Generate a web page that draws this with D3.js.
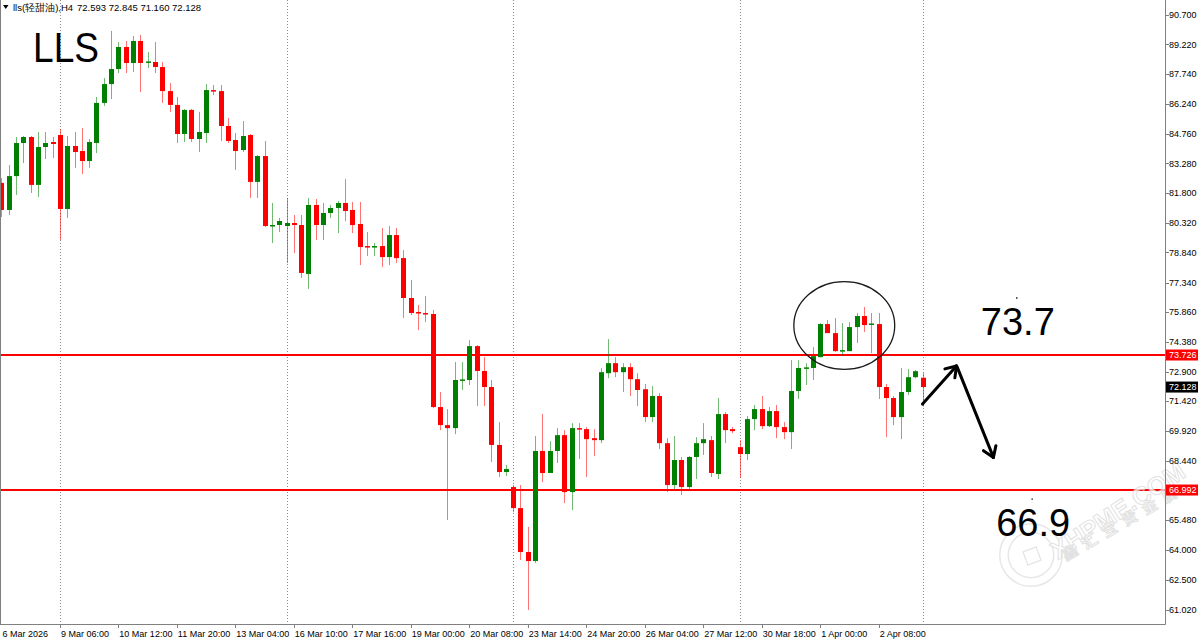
<!DOCTYPE html>
<html><head><meta charset="utf-8">
<script src="https://cdn.jsdelivr.net/npm/d3@7"></script>
<style>html,body{margin:0;padding:0;background:#fff;} svg{display:block;}</style>
</head><body><svg id="c" width="1203" height="640"></svg>
<script>
// ---- DATA (H4 candles, index = bar number from left) ----
const opens = [82.31,80.96,82.65,84.30,84.60,82.21,84.10,84.35,84.70,81.01,84.15,83.90,83.40,84.30,86.30,87.24,87.99,89.09,88.29,89.39,
88.34,88.34,88.09,86.89,86.20,84.75,85.95,84.50,84.80,86.94,86.89,85.15,84.45,83.95,84.70,82.36,83.65,80.18,80.21,80.16,
80.31,80.21,77.77,81.21,80.21,80.81,81.06,81.31,80.96,80.26,79.16,79.10,79.16,78.61,79.71,78.56,76.57,75.87,75.82,75.77,
71.13,70.23,70.08,72.48,72.48,74.17,72.93,72.13,69.24,67.89,67.14,66.09,63.90,63.45,68.94,67.84,68.94,69.73,66.89,70.08,
70.03,69.58,69.48,72.82,73.32,72.87,73.12,72.52,72.02,70.63,71.68,69.33,67.24,68.49,67.14,68.64,69.33,69.48,67.79,70.78,
70.03,69.13,68.79,70.53,71.03,70.18,70.93,70.13,69.88,71.93,73.06,73.08,73.62,75.27,74.82,73.94,73.92,75.12,75.67,75.25,
75.27,72.13,71.58,70.63,71.88,72.62,72.593];
const highs = [82.55,83.20,84.60,84.65,84.65,84.85,84.85,84.60,85.00,84.65,84.85,85.05,84.50,86.60,87.54,89.89,89.34,89.39,89.64,89.69,
88.84,89.34,88.34,87.29,86.60,86.00,86.00,85.85,87.24,87.19,87.19,85.55,84.80,85.40,84.75,83.70,84.40,81.31,80.56,81.56,
80.71,80.71,81.56,81.51,81.31,81.21,81.41,82.50,81.36,81.36,79.86,79.31,80.06,80.16,80.06,78.96,77.47,76.22,76.67,75.97,
71.88,71.03,73.38,73.38,74.47,74.22,73.62,72.48,70.38,68.24,67.24,67.24,65.15,69.69,70.78,69.43,70.08,69.98,70.33,70.33,
70.13,70.03,73.07,74.52,73.62,73.32,73.32,72.82,72.28,72.18,71.83,69.58,69.69,68.64,68.69,69.63,70.33,69.69,71.58,70.88,
70.13,69.48,70.68,71.23,71.68,71.13,71.23,70.38,73.47,73.47,73.32,74.12,75.32,75.47,75.57,75.32,75.37,75.82,76.12,75.82,
75.82,72.28,71.68,73.08,73.03,72.98,72.845];
const lows = [80.61,80.71,81.71,83.30,81.81,81.61,83.50,83.55,79.46,80.56,83.06,82.75,83.06,83.80,86.15,86.49,87.79,87.79,87.84,86.84,
88.04,87.79,86.30,85.85,84.30,84.35,84.35,83.85,84.30,86.69,84.40,84.30,82.96,83.85,81.56,81.56,80.11,79.31,79.86,78.31,
78.81,77.57,77.02,79.46,79.46,80.56,79.81,80.41,79.81,78.21,78.66,78.66,78.11,78.21,78.31,75.57,75.72,74.97,75.37,71.07,
69.98,65.50,69.78,71.98,72.23,71.18,71.18,68.39,67.64,67.69,65.89,63.50,61.01,63.35,67.39,67.84,68.34,66.34,65.99,68.54,
67.64,68.68,69.33,72.57,72.62,71.88,71.68,71.18,70.38,70.38,69.04,66.89,67.04,66.74,67.04,67.54,68.74,67.64,67.54,69.33,
69.83,67.59,68.49,69.98,70.03,70.13,69.58,69.53,69.04,71.53,72.23,72.48,73.62,74.82,73.87,73.72,73.92,74.32,74.87,73.82,
71.53,69.63,70.23,69.53,71.73,72.57,71.160];
const closes = [80.96,82.65,84.30,84.60,82.21,84.10,84.30,84.25,81.01,84.15,83.85,83.40,84.35,86.30,87.24,87.99,89.09,88.29,89.39,88.29,
88.37,88.09,86.89,86.20,84.75,85.95,84.50,84.85,86.94,86.87,85.15,84.40,83.90,84.65,82.36,83.65,80.16,80.21,80.41,80.31,
80.21,77.82,81.21,80.21,80.81,81.06,81.31,80.91,80.21,79.11,79.10,79.16,78.61,79.71,78.56,76.57,75.82,75.82,75.77,71.13,
70.23,70.08,72.48,72.51,74.17,72.93,72.13,69.24,67.89,68.04,66.09,63.90,63.45,68.94,67.84,68.94,69.73,66.89,70.08,70.03,
69.53,69.48,72.87,73.32,72.87,73.12,72.52,71.98,70.63,71.68,69.33,67.24,68.49,67.14,68.64,69.33,69.53,67.84,70.78,69.98,
69.93,68.79,70.53,71.03,70.18,70.93,70.13,69.88,71.93,73.08,73.11,73.67,75.27,74.82,73.92,73.97,75.12,75.67,75.22,75.30,
72.13,71.58,70.63,71.88,72.62,72.92,72.128];

const firstLabel = "6 Mar 2026";
const timeTickBars = [8,16,24,32,40,48,56,64,72,80,88,96,104,112,120];
const timeLabels = ["9 Mar 06:00","10 Mar 12:00","11 Mar 20:00","13 Mar 04:00","16 Mar 10:00","17 Mar 16:00","19 Mar 00:00",
  "20 Mar 08:00","23 Mar 14:00","24 Mar 20:00","26 Mar 04:00","27 Mar 12:00","30 Mar 18:00","1 Apr 00:00","2 Apr 08:00"];
const separatorBars = [8,39,70,101,126];
const priceTicks = [90.700,89.220,87.740,86.240,84.760,83.280,81.800,80.320,78.840,77.340,75.860,74.380,72.900,71.420,69.920,68.440,65.480,64.000,62.500,61.020];
const levels = [73.726, 66.992];
const symbolName = "lls(轻甜油),H4";
const titleText = "LLS";
// annotations in (bar, price)
const ellipseAnn = {bar:115.3, price:75.20, rBars:6.9, rPrice:2.19};
const arrows = [ [[126.0,71.28],[130.65,73.18]], [[130.75,73.12],[135.7,68.62]] ];
const labelsAnn = [ {text:"73.7", bar:138.9, price:76.57}, {text:"66.9", bar:141.0, price:66.54} ];

// ---- SCALES ----
const W = 1203, H = 640, plotR = 1165, plotB = 624;
const x = d3.scaleLinear().domain([0,126]).range([1.4, 922.5]);
const y = d3.scaleLinear().domain([60.31, 91.433]).range([plotB, 0]);
const RED = "#ff0000", GREEN = "#008000";
const FONT = "'Liberation Sans', Arial, sans-serif";

const svg = d3.select("#c");
svg.append("rect").attr("width",W).attr("height",H).attr("fill","#fff");
svg.append("defs").append("clipPath").attr("id","clip")
  .append("rect").attr("x",0.5).attr("y",0).attr("width",plotR-0.5).attr("height",plotB);

const plot = svg.append("g").attr("clip-path","url(#clip)");

// period separators
plot.selectAll("line.sep").data(separatorBars).enter().append("line")
  .attr("x1",d=>Math.round(x(d))+0.5).attr("x2",d=>Math.round(x(d))+0.5)
  .attr("y1",0).attr("y2",plotB)
  .attr("stroke","#8c8c8c").attr("stroke-width",1).attr("stroke-dasharray","1,2");

// support / resistance lines
plot.selectAll("line.lvl").data(levels).enter().append("line")
  .attr("x1",0).attr("x2",plotR).attr("y1",d=>y(d)).attr("y2",d=>y(d))
  .attr("stroke",RED).attr("stroke-width",2);

// candles
const candles = d3.range(opens.length).map(i=>({i,o:opens[i],h:highs[i],l:lows[i],c:closes[i]}));
const cg = plot.append("g");
cg.selectAll("line.wick").data(candles).enter().append("line")
  .attr("x1",d=>Math.round(x(d.i))+0.5).attr("x2",d=>Math.round(x(d.i))+0.5)
  .attr("y1",d=>y(d.h)).attr("y2",d=>y(d.l))
  .attr("stroke",d=>d.c>=d.o?GREEN:RED).attr("stroke-opacity",0.55).attr("stroke-width",1);
const bw = 5;
cg.selectAll("rect.body").data(candles).enter().append("rect")
  .attr("x",d=>Math.round(x(d.i))+0.5-bw/2)
  .attr("width",bw)
  .attr("y",d=>y(Math.max(d.o,d.c)))
  .attr("height",d=>Math.max(1.5, Math.abs(y(d.o)-y(d.c))))
  .attr("fill",d=>d.c>=d.o?GREEN:RED);

// watermark (faint, beneath annotations, not clipped)
const wm = svg.append("g").attr("opacity",0.75);
wm.append("circle").attr("cx",1031).attr("cy",555).attr("r",27).attr("fill","none")
  .attr("stroke","#e0e0e0").attr("stroke-width",10);
wm.append("circle").attr("cx",1031).attr("cy",555).attr("r",27).attr("fill","none")
  .attr("stroke","#fff").attr("stroke-width",7);
wm.append("rect").attr("x",-7).attr("y",-7).attr("width",14).attr("height",14)
  .attr("transform","translate(1032,556) rotate(-20)")
  .attr("fill","#fff").attr("stroke","#dadada").attr("stroke-width",1.2);
wm.append("text").attr("transform","translate(1058,560) rotate(-33)")
  .attr("font-family",FONT).attr("font-weight","bold").attr("font-size",25)
  .attr("fill","#fff").attr("stroke","#d8d8d8").attr("stroke-width",1).text("XHPME.COM");
wm.append("text").attr("transform","translate(1066,561) rotate(-30)")
  .attr("font-family","'Noto Sans CJK SC'").attr("font-weight","bold").attr("font-size",15)
  .attr("letter-spacing",8)
  .attr("fill","#fff").attr("stroke","#d8d8d8").attr("stroke-width",1).text("鑫汇宝贵金属");

const ann = svg.append("g").attr("clip-path","url(#clip)");
// ellipse annotation
ann.append("ellipse")
  .attr("cx",x(ellipseAnn.bar)).attr("cy",y(ellipseAnn.price))
  .attr("rx",x(ellipseAnn.bar+ellipseAnn.rBars)-x(ellipseAnn.bar))
  .attr("ry",y(ellipseAnn.price-ellipseAnn.rPrice)-y(ellipseAnn.price))
  .attr("fill","none").attr("stroke","#1a1a1a").attr("stroke-width",1.3);

// arrows
arrows.forEach(seg=>{
  const [a,b] = seg;
  const x1=x(a[0]), y1=y(a[1]), x2=x(b[0]), y2=y(b[1]);
  ann.append("line").attr("x1",x1).attr("y1",y1).attr("x2",x2).attr("y2",y2)
    .attr("stroke","#000").attr("stroke-width",3).attr("stroke-linecap","round");
  const ang = Math.atan2(y1-y2, x1-x2), L = 12, spread = 34*Math.PI/180;
  [ -spread, spread ].forEach(s=>{
    ann.append("line").attr("x1",x2).attr("y1",y2)
      .attr("x2",x2+L*Math.cos(ang+s)).attr("y2",y2+L*Math.sin(ang+s))
      .attr("stroke","#000").attr("stroke-width",3).attr("stroke-linecap","round");
  });
});

// text annotations
labelsAnn.forEach(t=>{
  ann.append("circle").attr("cx",x(t.bar)).attr("cy",y(t.price)).attr("r",0.9).attr("fill","#444");
  ann.append("text").attr("x",x(t.bar)+1).attr("y",y(t.price)+37)
    .attr("text-anchor","middle").attr("font-family",FONT).attr("font-size",38)
    .attr("fill","#000").text(t.text);
});
svg.append("text").attr("x",33).attr("y",62).attr("font-family",FONT).attr("font-size",42)
  .attr("textLength",66).attr("lengthAdjust","spacingAndGlyphs").attr("fill","#000").text(titleText);

// header
const last = candles[candles.length-1];
svg.append("path").attr("d","M3,5 L8.5,5 L5.75,9 Z").attr("fill","#000");
svg.append("text").attr("x",13).attr("y",10.5).attr("font-family",FONT).attr("font-size",9.5).attr("fill","#000")
  .text(symbolName);
svg.append("text").attr("x",77).attr("y",10.5).attr("font-family",FONT).attr("font-size",9.5).attr("fill","#000")
  .text([last.o,last.h,last.l,last.c].map(v=>v.toFixed(3)).join(" "));

// frame
svg.append("line").attr("x1",0.5).attr("x2",0.5).attr("y1",0).attr("y2",plotB+0.5).attr("stroke","#808080");
svg.append("line").attr("x1",plotR+0.5).attr("x2",plotR+0.5).attr("y1",0).attr("y2",plotB+0.5).attr("stroke","#808080");
svg.append("line").attr("x1",0).attr("x2",plotR+0.5).attr("y1",plotB+0.5).attr("y2",plotB+0.5).attr("stroke","#808080");

// price axis
const pa = svg.append("g");
pa.selectAll("line").data(priceTicks).enter().append("line")
  .attr("x1",plotR+1).attr("x2",plotR+4).attr("y1",d=>Math.round(y(d))+0.5).attr("y2",d=>Math.round(y(d))+0.5)
  .attr("stroke","#808080");
pa.selectAll("text").data(priceTicks).enter().append("text")
  .attr("x",plotR+4).attr("y",d=>y(d)).attr("dy","0.35em")
  .attr("font-family",FONT).attr("font-size",9).attr("fill","#000").text(d=>d.toFixed(3));

function priceTag(v, bg){
  pa.append("rect").attr("x",plotR+1).attr("y",y(v)-5.5).attr("width",32).attr("height",11).attr("fill",bg);
  pa.append("text").attr("x",plotR+4).attr("y",y(v)).attr("dy","0.35em")
    .attr("font-family",FONT).attr("font-size",9).attr("fill","#fff").text(v.toFixed(3));
}
levels.forEach(v=>priceTag(v, RED));
priceTag(last.c, "#000");

// time axis
const ta = svg.append("g");
ta.selectAll("line").data(timeTickBars).enter().append("line")
  .attr("x1",d=>Math.round(x(d))+0.5).attr("x2",d=>Math.round(x(d))+0.5)
  .attr("y1",plotB+1).attr("y2",plotB+4).attr("stroke","#808080");
ta.selectAll("text").data(timeTickBars).enter().append("text")
  .attr("x",d=>x(d)+1).attr("y",636.5)
  .attr("font-family",FONT).attr("font-size",9).attr("fill","#000")
  .text((d,i)=>timeLabels[i]);
ta.append("text").attr("x",x(0)+1).attr("y",636.5)
  .attr("font-family",FONT).attr("font-size",9).attr("fill","#000").text(firstLabel);
</script></body></html>
